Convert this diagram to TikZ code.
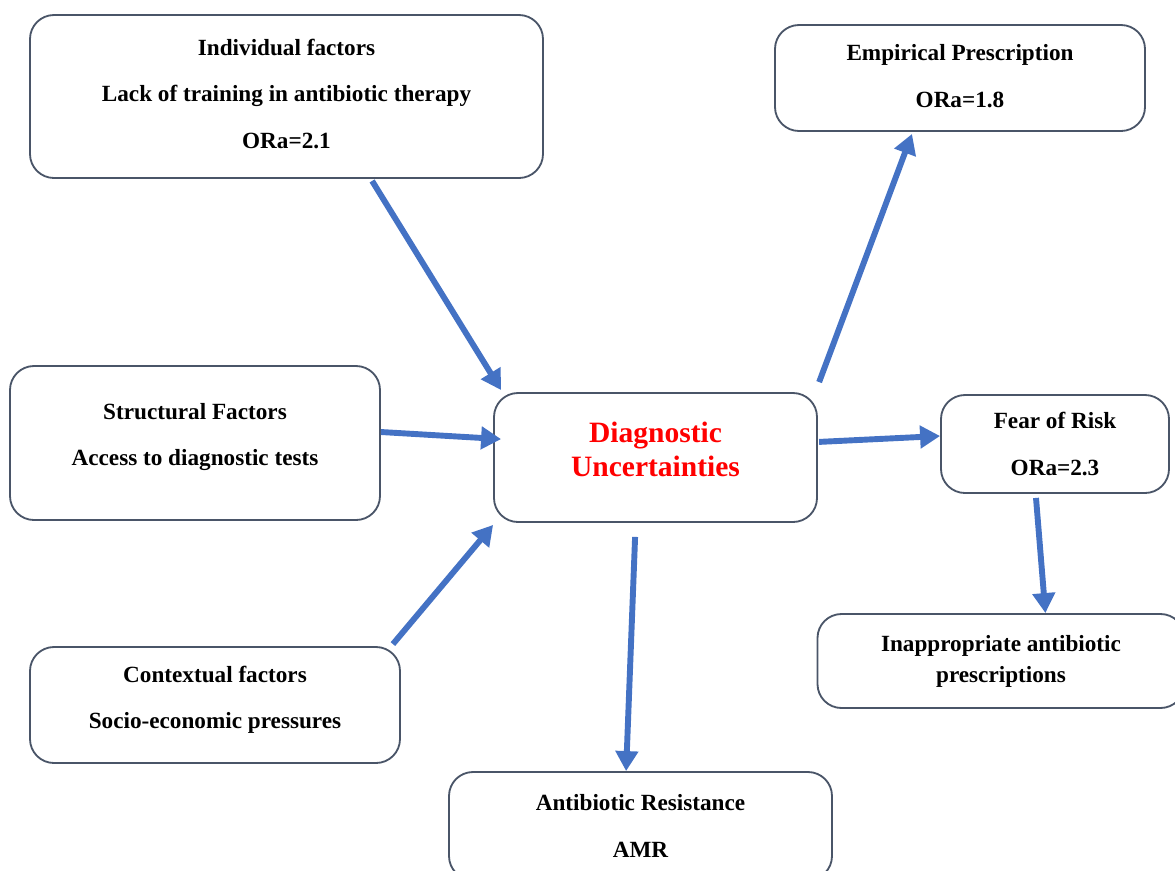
\documentclass[tikz,border=0pt]{standalone}
\usepackage{fontspec}
\setmainfont{Liberation Serif}
\usetikzlibrary{arrows.meta,positioning,calc}
\definecolor{boxline}{HTML}{4A5568}
\definecolor{arrblue}{HTML}{4472C4}
\definecolor{diagred}{HTML}{FF0000}

\begin{document}
\begin{tikzpicture}[
  box/.style={draw=boxline,line width=1.3pt,rounded corners=0.6cm,align=center,
    font=\fontsize{16.5}{33}\selectfont\bfseries,inner sep=2pt},
  link/.style={-{Triangle[length=0.5cm,width=0.55cm]},arrblue,line width=4.2pt}]
  \useasboundingbox (0,0) rectangle (29.375,-21.75);
  \node[box,minimum width=12.825cm,minimum height=4.075cm,text depth=0.15cm] (indiv) at (7.1625,-2.4125) {Individual factors\\Lack of training in antibiotic therapy\\ORa=2.1};
  \node[box,minimum width=9.25cm,minimum height=2.65cm,text depth=0.1cm] (emp) at (24.0,-1.95) {Empirical Prescription\\ORa=1.8};
  \node[box,minimum width=9.25cm,minimum height=3.85cm,text depth=0.43cm] (struct) at (4.875,-11.075) {Structural Factors\\Access to diagnostic tests};
  \node[box,minimum width=8.075cm,minimum height=3.225cm,text=diagred,font=\fontsize{21}{24}\selectfont\bfseries,text depth=0.4cm] (diag) at (16.3875,-11.4375) {Diagnostic\\Uncertainties};
  \node[box,minimum width=5.7cm,minimum height=2.45cm] (fear) at (26.375,-11.1) {Fear of Risk\\ORa=2.3};
  \node[box,minimum width=9.175cm,minimum height=2.35cm,font=\fontsize{16.5}{22}\selectfont\bfseries] (inapp) at (25.025,-16.525) {Inappropriate antibiotic\\prescriptions};
  \node[box,minimum width=9.25cm,minimum height=2.9cm,text depth=0.38cm] (context) at (5.375,-17.625) {Contextual factors\\Socio-economic pressures};
  \node[box,minimum width=9.575cm,minimum height=2.7cm] (amr) at (16.0125,-20.65) {Antibiotic Resistance\\AMR};
  % causes
  \draw[link] ([xshift=2.14cm,yshift=-0.05cm]indiv.south) -- ([xshift=0.2cm,yshift=0.05cm]diag.north west);
  \draw[link] ([yshift=0.275cm]struct.east) -- ([xshift=0.2cm,yshift=0.46cm]diag.west);
  \draw[link] ([xshift=-0.2cm,yshift=0.05cm]context.north east) -- ([yshift=-0.05cm]diag.south west);
  % consequences
  \draw[link] ([xshift=0.03cm,yshift=0.25cm]diag.north east) -- ([xshift=-1.2cm,yshift=-0.05cm]emp.south);
  \draw[link] ([xshift=0.03cm,yshift=0.39cm]diag.east) -- ([yshift=0.2cm]fear.west);
  \draw[link] ([xshift=-0.51cm,yshift=-0.35cm]diag.south) -- ([xshift=-0.36cm]amr.north);
  \draw[link] ([xshift=-0.475cm,yshift=-0.1cm]fear.south) -- ([xshift=1.11cm]inapp.north);
\end{tikzpicture}
\end{document}
